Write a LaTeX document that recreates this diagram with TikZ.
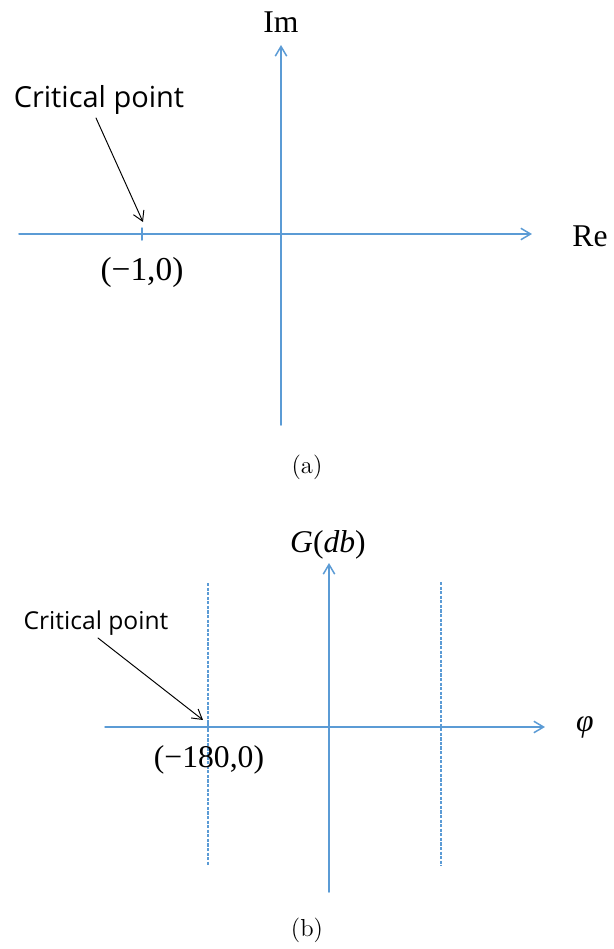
\documentclass[tikz,border=0pt]{standalone}
\usepackage{fontspec}
\newfontfamily\notefont{Open Sans}
\newfontfamily\tnrfont{Liberation Serif}
\usetikzlibrary{arrows.meta}
\definecolor{axisblue}{RGB}{91,155,213}

\begin{document}
\begin{tikzpicture}[line join=round, line cap=round,>={Straight Barb[length=5.5pt,width=6.5pt]}]
	\tikzset{axis/.style={axisblue,line width=0.85pt},
		guide/.style={axisblue,line width=0.65pt,line cap=butt,dash pattern=on 1.8pt off 0.8pt},
		pointer/.style={black,line width=0.55pt},
		lbl/.style={font=\tnrfont\fontsize{18}{20}\selectfont,inner sep=0pt},
		note/.style={font=\notefont\fontsize{16.5}{18}\selectfont,inner sep=0pt},
		subcap/.style={font=\fontsize{14}{16}\selectfont,inner sep=0pt}}
	\useasboundingbox (-5.62,-14.30) rectangle (6.66,4.68);
	% (a) Nyquist plane
	\coordinate (O) at (0,0);
	\coordinate (ReL) at (-5.24,0);
	\coordinate (ReR) at (5.02,0);
	\coordinate (ImB) at (0,-3.82);
	\coordinate (ImT) at (0,3.78);
	\coordinate (crit) at (-2.78,0);
	\coordinate (critT) at (-2.78,0.12);
	\coordinate (critB) at (-2.78,-0.12);
	\draw[axis,->] (ReL)--(ReR);
	\draw[axis,->] (ImB)--(ImT);
	\draw[axis] (critB)--(critT);
	\node[lbl] (Im) at (0,4.24) {Im};
	\node[lbl] (Re) at (6.18,-0.04) {Re};
	\node[lbl,font=\tnrfont\fontsize{19}{21}\selectfont] (critlbl) at (-2.78,-0.76) {(−1,0)};
	\node[note] (cpa) at (-3.64,2.68) {Critical point};
	\coordinate (cpaS) at (-3.70,2.32);
	\coordinate (cpaE) at (-2.76,0.24);
	\draw[pointer,->] (cpaS)--(cpaE);
	\node[subcap] (capa) at (0.52,-4.66) {(a)};
	% (b) Nichols plane
	\begin{scope}[shift={(0.96,-9.86)}]
		\coordinate (phiL) at (-4.48,0);
		\coordinate (phiR) at (4.32,0);
		\coordinate (GB) at (0,-3.30);
		\coordinate (GT) at (0,3.28);
		\coordinate (lineLT) at (-2.42,2.88);
		\coordinate (lineLB) at (-2.42,-2.78);
		\coordinate (lineRT) at (2.24,2.90);
		\coordinate (lineRB) at (2.24,-2.78);
		\coordinate (critbT) at (-2.42,0.08);
		\coordinate (critbB) at (-2.42,-0.08);
		\draw[axis,->] (phiL)--(phiR);
		\draw[axis,->] (GB)--(GT);
		\draw[guide] (lineLT)--(lineLB);
		\draw[guide] (lineRT)--(lineRB);
		\draw[axis] (critbB)--(critbT);
		\node[lbl] (G) at (-0.02,3.64) {\itshape G\upshape(\itshape db\upshape)};
		\node[lbl] (phi) at (5.12,0) {\itshape φ};
		\node[lbl] (critblbl) at (-2.40,-0.66) {(−180,0)};
		\node[note,font=\notefont\fontsize{14}{16}\selectfont] (cpb) at (-4.66,2.08) {Critical point};
		\coordinate (cpbS) at (-4.62,1.78);
		\coordinate (cpbE) at (-2.52,0.14);
		\draw[pointer,->] (cpbS)--(cpbE);
		\node[subcap] (capb) at (-0.44,-4.06) {(b)};
	\end{scope}
\end{tikzpicture}
\end{document}
